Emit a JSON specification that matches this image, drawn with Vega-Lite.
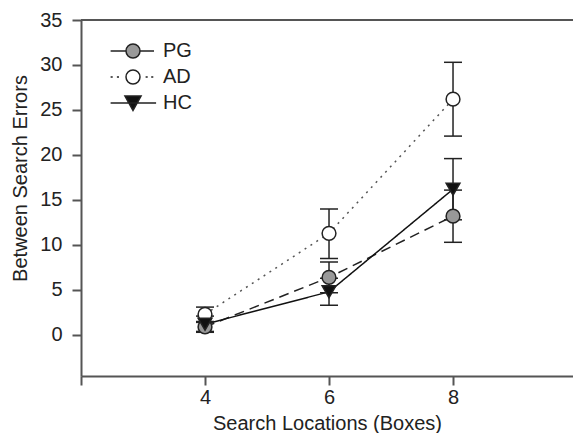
{
  "$schema": "https://vega.github.io/schema/vega-lite/v6.json",
  "width": 492,
  "height": 356,
  "autosize": "none",
  "padding": {"left": 81, "top": 20, "right": 0, "bottom": 57},
  "background": "white",
  "config": {
    "view": {"stroke": null},
    "font": "Liberation Sans",
    "axis": {
      "labelFont": "Liberation Sans",
      "titleFont": "Liberation Sans",
      "labelFontSize": 20,
      "titleFontSize": 20,
      "labelColor": "#222",
      "titleColor": "#222",
      "titleFontWeight": "normal",
      "domainColor": "#555",
      "domainWidth": 2,
      "tickColor": "#555",
      "tickWidth": 2,
      "tickSize": 9,
      "grid": false,
      "labelOverlap": false,
      "labelFlush": false
    }
  },
  "data": {
    "values": [
      {"group": "PG", "x": 4, "y": 0.9, "lo": 0.4, "hi": 1.4},
      {"group": "PG", "x": 6, "y": 6.4, "lo": 4.7, "hi": 8.1},
      {"group": "PG", "x": 8, "y": 13.2, "lo": 10.3, "hi": 16.1},
      {"group": "AD", "x": 4, "y": 2.3, "lo": 1.5, "hi": 3.1},
      {"group": "AD", "x": 6, "y": 11.3, "lo": 8.5, "hi": 14.0},
      {"group": "AD", "x": 8, "y": 26.2, "lo": 22.1, "hi": 30.3},
      {"group": "HC", "x": 4, "y": 1.2, "lo": 0.3, "hi": 2.1},
      {"group": "HC", "x": 6, "y": 4.8, "lo": 3.3, "hi": 6.3},
      {"group": "HC", "x": 8, "y": 16.2, "lo": 12.8, "hi": 19.6}
    ]
  },
  "encoding": {
    "x": {
      "field": "x",
      "type": "quantitative",
      "scale": {"domain": [2, 9.935], "nice": false, "zero": false},
      "axis": {
        "values": [2, 4, 6, 8],
        "labelExpr": "datum.value == 2 ? '' : datum.label",
        "labelBaseline": "alphabetic",
        "labelPadding": 18,
        "title": "Search Locations (Boxes)",
        "titleX": 246,
        "titleY": 53,
        "titleBaseline": "alphabetic",
        "titleAlign": "center",
        "titleAnchor": null
      }
    },
    "y": {
      "field": "y",
      "type": "quantitative",
      "scale": {"domain": [-4.556, 35], "nice": false, "zero": false},
      "axis": {
        "values": [0, 5, 10, 15, 20, 25, 30, 35],
        "labelPadding": 10,
        "title": "Between Search Errors",
        "titleX": -61,
        "titleY": 158,
        "titleAngle": -90,
        "titleBaseline": "middle",
        "titleAlign": "center",
        "titleAnchor": null
      }
    }
  },
  "layer": [
    {
      "mark": {"type": "rule", "color": "#555", "strokeWidth": 2},
      "encoding": {"x": null, "y": {"datum": 35, "type": "quantitative"}}
    },
    {
      "mark": {"type": "line", "strokeWidth": 1.5},
      "encoding": {
        "stroke": {
          "field": "group",
          "type": "nominal",
          "scale": {"domain": ["PG", "AD", "HC"], "range": ["#222", "#555", "#111"]},
          "legend": null
        },
        "strokeDash": {
          "field": "group",
          "type": "nominal",
          "scale": {"domain": ["PG", "AD", "HC"], "range": [[10, 6], [2, 5], [1, 0]]},
          "legend": null
        }
      }
    },
    {
      "mark": {"type": "rule", "color": "#222", "strokeWidth": 1.5},
      "encoding": {
        "y": {"field": "lo", "type": "quantitative"},
        "y2": {"field": "hi"}
      }
    },
    {
      "mark": {"type": "tick", "orient": "horizontal", "color": "#222", "size": 18, "thickness": 1.5, "opacity": 1},
      "encoding": {"y": {"field": "lo", "type": "quantitative"}}
    },
    {
      "mark": {"type": "tick", "orient": "horizontal", "color": "#222", "size": 18, "thickness": 1.5, "opacity": 1},
      "encoding": {"y": {"field": "hi", "type": "quantitative"}}
    },
    {
      "mark": {"type": "point", "filled": true, "stroke": "#222", "strokeWidth": 1.5, "opacity": 1},
      "encoding": {
        "shape": {
          "field": "group",
          "type": "nominal",
          "scale": {"domain": ["PG", "AD", "HC"], "range": ["circle", "circle", "triangle-down"]},
          "legend": null
        },
        "fill": {
          "field": "group",
          "type": "nominal",
          "scale": {"domain": ["PG", "AD", "HC"], "range": ["#999999", "#ffffff", "#111111"]},
          "legend": null
        },
        "size": {
          "field": "group",
          "type": "nominal",
          "scale": {"domain": ["PG", "AD", "HC"], "range": [190, 190, 240]},
          "legend": null
        }
      }
    },
    {
      "transform": [{"filter": "datum.x > 100"}],
      "mark": {"type": "point", "filled": true, "strokeWidth": 1.5, "opacity": 1},
      "encoding": {
        "shape": {
          "field": "group",
          "type": "nominal",
          "scale": {
            "domain": ["PG", "AD", "HC"],
            "range": [
              "M-3.2,0H-1M1,0H3M1,0C1,0.5523 0.5523,1 0,1C-0.5523,1 -1,0.5523 -1,0C-1,-0.5523 -0.5523,-1 0,-1C0.5523,-1 1,-0.5523 1,0Z",
              "M-3.2,0H-2.9M-2.3,0H-2M1.8,0H2.1M2.6,0H2.9M1,0C1,0.5523 0.5523,1 0,1C-0.5523,1 -1,0.5523 -1,0C-1,-0.5523 -0.5523,-1 0,-1C0.5523,-1 1,-0.5523 1,0Z",
              "M-3.2,0H3.3M-1.15,-1L1.15,-1L0,1.05Z"
            ]
          },
          "legend": {
            "title": null,
            "orient": "none",
            "legendX": 0,
            "legendY": 21,
            "padding": 0,
            "symbolSize": 196,
            "symbolOffset": 42,
            "labelOffset": 20,
            "rowPadding": 6,
            "labelFont": "Liberation Sans",
            "labelFontSize": 20,
            "labelColor": "#222",
            "symbolStrokeWidth": 1.5,
            "symbolOpacity": 1
          }
        },
        "fill": {
          "field": "group",
          "type": "nominal",
          "scale": {"domain": ["PG", "AD", "HC"], "range": ["#999999", "#ffffff", "#111111"]},
          "legend": {
            "title": null,
            "orient": "none",
            "legendX": 0,
            "legendY": 21,
            "padding": 0,
            "symbolSize": 196,
            "symbolOffset": 42,
            "labelOffset": 20,
            "rowPadding": 6,
            "labelFont": "Liberation Sans",
            "labelFontSize": 20,
            "labelColor": "#222",
            "symbolStrokeWidth": 1.5,
            "symbolOpacity": 1
          }
        },
        "stroke": {
          "field": "group",
          "type": "nominal",
          "scale": {"domain": ["PG", "AD", "HC"], "range": ["#222222", "#222222", "#222222"]},
          "legend": {
            "title": null,
            "orient": "none",
            "legendX": 0,
            "legendY": 21,
            "padding": 0,
            "symbolSize": 196,
            "symbolOffset": 42,
            "labelOffset": 20,
            "rowPadding": 6,
            "labelFont": "Liberation Sans",
            "labelFontSize": 20,
            "labelColor": "#222",
            "symbolStrokeWidth": 1.5,
            "symbolOpacity": 1
          }
        }
      }
    }
  ],
  "resolve": {"scale": {"shape": "independent", "fill": "independent", "stroke": "independent"}}
}
